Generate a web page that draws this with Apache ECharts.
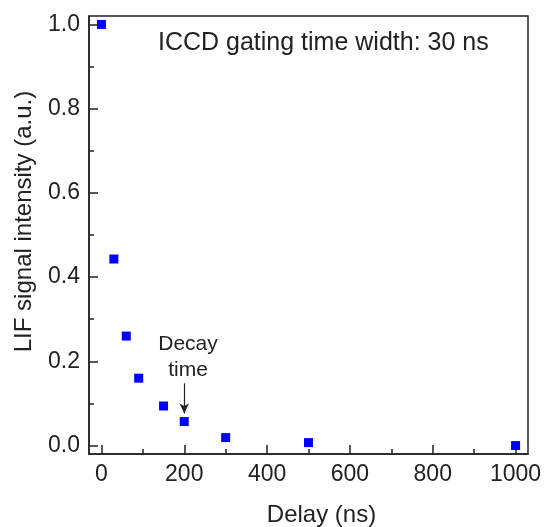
<!DOCTYPE html>
<html>
<head>
<meta charset="utf-8">
<script src="https://cdn.jsdelivr.net/npm/echarts@6/dist/echarts.min.js"></script>
<style>
html,body{margin:0;padding:0;background:#fff;}
#chart{width:544px;height:527px;}
</style>
</head>
<body>
<div id="chart"></div>
<script>
// Data
var delays = [0, 30, 60, 90, 150, 200, 300, 500, 1000];
var intensity = [1.0, 0.443, 0.26, 0.16, 0.094, 0.057, 0.019, 0.007, 0.0];
var xMajorTicks = [0, 200, 400, 600, 800, 1000];
var xMinorTicks = [100, 300, 500, 700, 900];
var yMajorTicks = [0, 0.2, 0.4, 0.6, 0.8, 1.0];
var yMinorTicks = [0.1, 0.3, 0.5, 0.7, 0.9];
var xTitle = 'Delay (ns)';
var yTitle = 'LIF signal intensity (a.u.)';
var noteText = 'ICCD gating time width: 30 ns';
var decayText = 'Decay\ntime';
var decayArrow = [[200, 0.148], [200, 0.076]];
var decayLabelPos = [209, 0.21];

var FONT = 'Liberation Sans, Arial, sans-serif';
var TXT = '#222';
var pts = delays.map(function (d, i) { return [d, intensity[i]]; });

var chart = echarts.init(document.getElementById('chart'), null, {renderer: 'canvas'});
var xRange = {min: -30, max: 1030};
var yRange = {min: -0.02, max: 1.02};
var tickStyle = {color: '#222', width: 1.5};

function tickAxis(range, pos, values, len) {
  return {
    type: 'value', min: range.min, max: range.max, position: pos,
    axisLine: {show: false, onZero: false},
    axisTick: {show: true, inside: true, length: len, customValues: values, lineStyle: tickStyle},
    axisLabel: {show: false, customValues: values},
    splitLine: {show: false}
  };
}

chart.setOption({
  animation: false,
  backgroundColor: '#fff',
  grid: {left: 89, right: 16, top: 16, bottom: 73, show: true, borderColor: '#222', borderWidth: 1.5,
    backgroundColor: 'transparent', containLabel: false, outerBoundsMode: 'none'},
  xAxis: [{
    type: 'value', min: xRange.min, max: xRange.max, position: 'bottom',
    name: xTitle, nameLocation: 'middle', nameGap: 49,
    nameTextStyle: {fontFamily: FONT, fontSize: 24, color: TXT, padding: [0, 0, 0, 26]},
    axisLine: {show: true, onZero: false, lineStyle: {color: '#222', width: 1.5}},
    axisTick: {show: false},
    axisLabel: {show: true, customValues: xMajorTicks, margin: 9, fontFamily: FONT, fontSize: 23, color: TXT,
      formatter: function (v) { return String(v); }},
    splitLine: {show: false}
  }, tickAxis(xRange, 'bottom', xMajorTicks, 9), tickAxis(xRange, 'bottom', xMinorTicks, 5)],
  yAxis: [{
    type: 'value', min: yRange.min, max: yRange.max, position: 'left',
    name: yTitle, nameLocation: 'middle', nameGap: 53,
    nameTextStyle: {fontFamily: FONT, fontSize: 24, color: TXT, padding: [0, 0, 0, 27]},
    axisLine: {show: true, onZero: false, lineStyle: {color: '#222', width: 1.5}},
    axisTick: {show: false},
    axisLabel: {show: true, customValues: yMajorTicks, margin: 9, fontFamily: FONT, fontSize: 23, color: TXT,
      padding: [3, 0, 0, 0],
      formatter: function (v) { return Number(v).toFixed(1); }},
    splitLine: {show: false}
  }, tickAxis(yRange, 'left', yMajorTicks, 9), tickAxis(yRange, 'left', yMinorTicks, 5)],
  graphic: [{
    type: 'text', left: 158, top: 31,
    style: {text: noteText, font: '25px ' + FONT, fill: TXT}
  }],
  series: [{
    type: 'scatter', xAxisIndex: 0, yAxisIndex: 0,
    data: pts, symbol: 'rect', symbolSize: 9,
    itemStyle: {color: '#0000ff', opacity: 1},
    markLine: {
      silent: true, symbol: ['none', 'arrow'], symbolSize: [7, 10],
      lineStyle: {color: '#222', width: 1.2, type: 'solid'},
      label: {show: false},
      data: [[{coord: decayArrow[0]}, {coord: decayArrow[1]}]]
    },
    markPoint: {
      silent: true, symbol: 'circle', symbolSize: 0,
      label: {show: true, position: 'inside', formatter: decayText, fontFamily: FONT, fontSize: 21, lineHeight: 26, color: TXT, align: 'center'},
      data: [{coord: decayLabelPos, value: 0}]
    }
  }]
});
</script>
</body>
</html>
